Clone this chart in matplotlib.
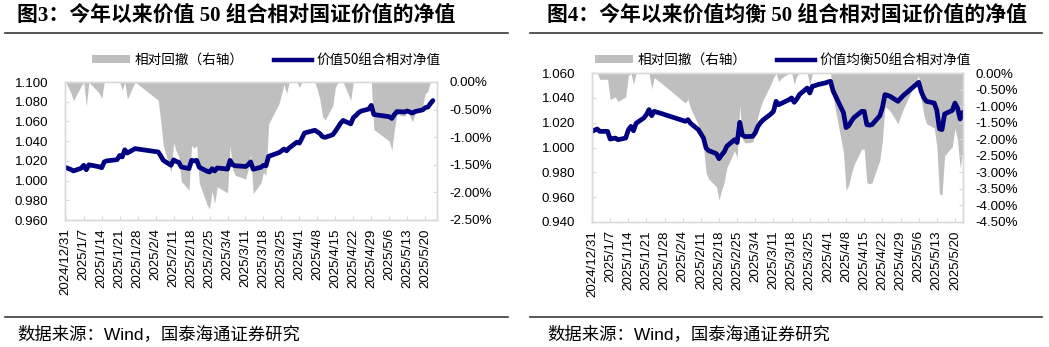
import pandas as pd
import matplotlib
matplotlib.use("Agg")
import matplotlib.pyplot as plt
import matplotlib.dates as mdates
from matplotlib.patches import Patch
from matplotlib.lines import Line2D
from matplotlib.ticker import FuncFormatter, FixedLocator

plt.rcParams['font.family'] = ['Liberation Sans', 'Noto Sans CJK SC']

# ---------------------------------------------------------------- data
# Exchange holidays (New Year, Spring Festival, Qingming, Labour Day)
holidays = ['2025-01-01', '2025-01-28', '2025-01-29', '2025-01-30', '2025-01-31',
            '2025-02-03', '2025-02-04', '2025-04-04', '2025-05-01', '2025-05-02',
            '2025-05-05']
trade_dates = pd.bdate_range('2024-12-31', '2025-05-23', freq='C', holidays=holidays)

# Value 50 portfolio, NAV relative to CNI Value index
nav_value50 = [
    1.0132, 1.0112, 1.0098, 1.0125, 1.0155, 1.0110, 1.0160, 1.0155, 1.0140, 1.0130,
    1.0190, 1.0200, 1.0203, 1.0212, 1.0255, 1.0240, 1.0312, 1.0280, 1.0324, 1.0290,
    1.0250, 1.0205, 1.0155, 1.0210, 1.0195, 1.0185, 1.0138, 1.0122, 1.0205, 1.0200,
    1.0205, 1.0135, 1.0095, 1.0087, 1.0120, 1.0097, 1.0128, 1.0120, 1.0116, 1.0205,
    1.0160, 1.0150, 1.0145, 1.0142, 1.0160, 1.0190, 1.0115, 1.0135, 1.0155, 1.0150,
    1.0246, 1.0255, 1.0283, 1.0300, 1.0320, 1.0302, 1.0330, 1.0390, 1.0380, 1.0430,
    1.0483, 1.0510, 1.0495, 1.0476, 1.0445, 1.0438, 1.0465, 1.0500, 1.0540, 1.0580,
    1.0610, 1.0575, 1.0638, 1.0660, 1.0688, 1.0705, 1.0725, 1.0763, 1.0670, 1.0648,
    1.0630, 1.0670, 1.0700, 1.0696, 1.0706, 1.0696, 1.0685, 1.0700, 1.0717, 1.0740,
    1.0745, 1.0780, 1.0812]
# Relative drawdown of the Value 50 portfolio, in percent
dd_value50 = [
    0.00, -0.20, -0.34, -0.07, 0.00, -0.44, 0.00, -0.05, -0.20, -0.30,
    0.00, 0.00, 0.00, 0.00, 0.00, -0.15, 0.00, -0.31, 0.00, -0.33,
    -0.72, -1.15, -1.64, -1.10, -1.25, -1.35, -1.80, -1.96, -1.15, -1.20,
    -1.15, -1.83, -2.22, -2.30, -1.98, -2.20, -1.90, -1.98, -2.01, -1.15,
    -1.59, -1.69, -1.74, -1.76, -1.59, -1.30, -2.02, -1.83, -1.64, -1.69,
    -0.76, -0.67, -0.40, -0.23, -0.04, -0.21, 0.00, 0.00, -0.10, 0.00,
    0.00, 0.00, -0.14, -0.32, -0.62, -0.69, -0.43, -0.10, 0.00, 0.00,
    0.00, -0.33, 0.00, 0.00, 0.00, 0.00, 0.00, 0.00, -0.86, -1.07,
    -1.24, -0.86, -0.59, -0.62, -0.53, -0.62, -0.72, -0.59, -0.43, -0.21,
    -0.17, 0.00, 0.00]

# Balanced value 50 portfolio, NAV relative to CNI Value index
nav_balanced50 = [
    1.0130, 1.0149, 1.0130, 1.0130, 1.0068, 1.0072, 1.0076, 1.0063, 1.0076, 1.0140,
    1.0170, 1.0135, 1.0195, 1.0238, 1.0265, 1.0305, 1.0256, 1.0291, 1.0272, 1.0211,
    1.0224, 1.0195, 1.0144, 1.0110, 1.0076, 0.9995, 0.9975, 0.9950, 0.9910, 0.9940,
    0.9965, 1.0010, 1.0063, 1.0040, 1.0203, 1.0100, 1.0088, 1.0090, 1.0120, 1.0170,
    1.0200, 1.0222, 1.0270, 1.0291, 1.0372, 1.0345, 1.0355, 1.0385, 1.0399, 1.0364,
    1.0390, 1.0426, 1.0479, 1.0439, 1.0493, 1.0498, 1.0506, 1.0520, 1.0528, 1.0533,
    1.0455, 1.0280, 1.0160, 1.0175, 1.0211, 1.0240, 1.0291, 1.0291, 1.0184, 1.0180,
    1.0184, 1.0255, 1.0320, 1.0426, 1.0420, 1.0412, 1.0372, 1.0395, 1.0417, 1.0525,
    1.0450, 1.0400, 1.0372, 1.0358, 1.0300, 1.0150, 1.0144, 1.0270, 1.0299, 1.0358,
    1.0318, 1.0230, 1.0283]
# Relative drawdown of the balanced portfolio, in percent
dd_balanced50 = [
    0.00, 0.00, -0.19, -0.19, -0.80, -0.76, -0.72, -0.86, -0.72, -0.09,
    0.00, -0.34, 0.00, 0.00, 0.00, 0.00, -0.48, -0.14, -0.32, -0.91,
    -0.79, -1.07, -1.56, -1.89, -2.22, -3.01, -3.20, -3.44, -3.83, -3.54,
    -3.30, -2.86, -2.35, -2.57, -0.99, -1.99, -2.11, -2.09, -1.80, -1.31,
    -1.02, -0.81, -0.34, -0.14, 0.00, -0.26, -0.16, 0.00, 0.00, -0.34,
    -0.09, 0.00, 0.00, -0.38, 0.00, 0.00, 0.00, 0.00, 0.00, 0.00,
    -0.74, -2.40, -3.54, -3.40, -3.06, -2.78, -2.30, -2.30, -3.31, -3.35,
    -3.31, -2.64, -2.02, -1.02, -1.07, -1.15, -1.53, -1.31, -1.10, -0.08,
    -0.79, -1.26, -1.53, -1.66, -2.21, -3.64, -3.69, -2.50, -2.22, -1.66,
    -2.04, -2.88, -2.37]

tick_dates = pd.date_range('2024-12-31', '2025-05-20', freq='7D')

left_ticks_3 = [0.96, 0.98, 1.00, 1.02, 1.04, 1.06, 1.08, 1.10]
right_ticks_3 = [0.0, -0.5, -1.0, -1.5, -2.0, -2.5]
left_ticks_4 = [0.94, 0.96, 0.98, 1.00, 1.02, 1.04, 1.06]
right_ticks_4 = [0.0, -0.5, -1.0, -1.5, -2.0, -2.5, -3.0, -3.5, -4.0, -4.5]

title_3 = '图3：今年以来价值 50 组合相对国证价值的净值'
title_4 = '图4：今年以来价值均衡 50 组合相对国证价值的净值'
legend_dd = '相对回撤（右轴）'
legend_nav_3 = '价值50组合相对净值'
legend_nav_4 = '价值均衡50组合相对净值'
source = '数据来源：Wind，国泰海通证券研究'

# ---------------------------------------------------------------- style
W, H = 1049, 347
NAVY = '#000080'
GREY = '#bfbfbf'
FRAME = '#d9d9d9'
RULE = '#3a3a3a'
CJK = ['Noto Sans CJK SC']

fig = plt.figure(figsize=(W / 100, H / 100), dpi=100)


def fx(px):
    return px / W


def fy(py):
    return 1 - py / H


def date_label(v, _pos):
    d = mdates.num2date(v)
    return f'{d.year}/{d.month}/{d.day}'


def pct_label(v, _pos):
    if abs(v) < 1e-9:
        v = 0.0
    return f'{v:.2f}%'


def panel(box, nav, dd, lticks, rticks, xpad, legend_nav, legend_x):
    x0, y0, x1, y1 = box
    ax = fig.add_axes([fx(x0), fy(y1), fx(x1 - x0), (y1 - y0) / H])
    ax2 = ax.twinx()

    ax2.fill_between(trade_dates, dd, 0, color=GREY, linewidth=0)
    ax.plot(trade_dates, nav, color=NAVY, lw=3.4, solid_joinstyle='round',
            solid_capstyle='round')

    ax.set_zorder(ax2.get_zorder() + 1)
    ax.patch.set_visible(False)

    start = mdates.date2num(pd.Timestamp('2024-12-31'))
    ax.set_xlim(start + xpad[0], start + xpad[1])
    ax.set_ylim(lticks[0], lticks[-1])
    ax2.set_ylim(rticks[-1], rticks[0])

    ax.xaxis.set_major_locator(FixedLocator(mdates.date2num(tick_dates)))
    ax.xaxis.set_major_formatter(FuncFormatter(date_label))
    ax.yaxis.set_major_locator(FixedLocator(lticks))
    ax.yaxis.set_major_formatter(FuncFormatter(lambda v, p: f'{v:.3f}'))
    ax2.yaxis.set_major_locator(FixedLocator(rticks))
    ax2.yaxis.set_major_formatter(FuncFormatter(pct_label))

    for a in (ax, ax2):
        for s in a.spines.values():
            s.set_color(FRAME)
            s.set_linewidth(1.0)
    ax.tick_params(axis='y', direction='in', length=3, color=FRAME, pad=12,
                   labelsize=9.6)
    ax.tick_params(axis='x', direction='in', length=3, color=FRAME, pad=6,
                   labelsize=9.6, labelrotation=90)
    ax2.tick_params(axis='y', direction='in', length=3, color=FRAME, pad=9,
                    labelsize=9.6)

    handles = [Patch(facecolor=GREY, edgecolor='none', label=legend_dd),
               Line2D([], [], color=NAVY, lw=3.2, label=legend_nav)]
    ax.legend(handles=handles, loc='center left',
              bbox_to_anchor=(fx(legend_x), fy(60)), bbox_transform=fig.transFigure,
              ncol=2, frameon=False, prop={'family': CJK, 'size': 9.8},
              handlelength=2.8, handleheight=0.5, handletextpad=0.35,
              columnspacing=2.2, borderpad=0, borderaxespad=0)
    return ax


panel((65, 82, 437, 220), nav_value50, dd_value50, left_ticks_3, right_ticks_3,
      (-0.3, 144.6), legend_nav_3, 92)
panel((592, 73, 963, 222), nav_balanced50, dd_balanced50, left_ticks_4, right_ticks_4,
      (0.0, 143.1), legend_nav_4, 595)

# titles, rules and source notes
for x_text, x_a, x_b, title in ((17, 5, 508, title_3), (547, 530, 1042, title_4)):
    fig.text(fx(x_text), fy(16), title, fontsize=15, fontweight='bold',
             ha='left', va='center', family=['Liberation Serif', 'Noto Sans CJK SC'])
    fig.add_artist(Line2D([fx(x_a), fx(x_b)], [fy(33), fy(33)],
                          transform=fig.transFigure, color=RULE, lw=1.2))
    fig.add_artist(Line2D([fx(x_a), fx(x_b)], [fy(317), fy(317)],
                          transform=fig.transFigure, color=RULE, lw=1.2))
    fig.text(fx(x_text), fy(334), source, fontsize=12.5, ha='left', va='center',
             family=['Liberation Sans', 'Noto Sans CJK SC'])

fig.savefig('out.png', dpi=100)
